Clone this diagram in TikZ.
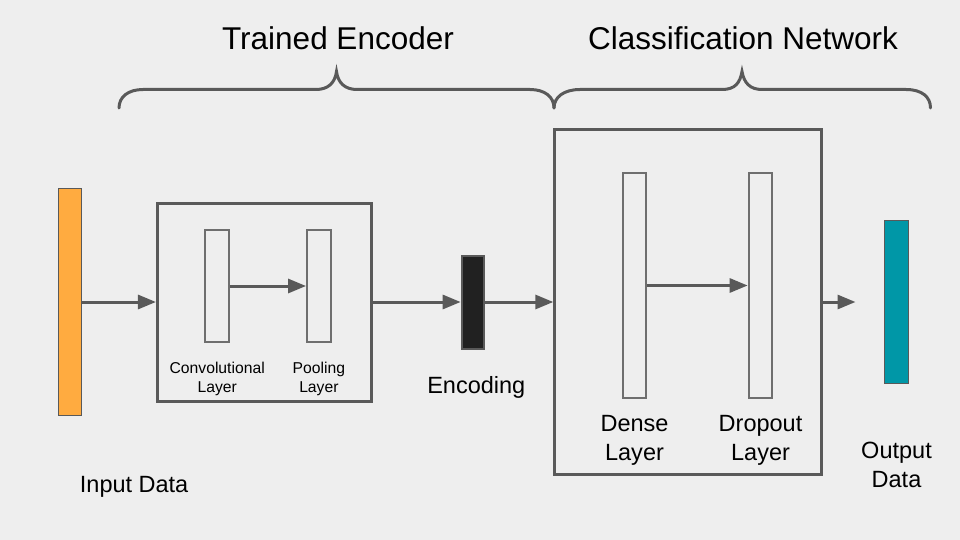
\documentclass[tikz,border=0pt]{standalone}
\usepackage{fontspec}
\setmainfont{Liberation Sans}
\usepackage{xcolor}
\usetikzlibrary{positioning, arrows.meta}
\definecolor{mbg}{HTML}{EEEEEE}
\definecolor{mline}{HTML}{595959}
\definecolor{mlayer}{HTML}{6E6E6E}
\definecolor{morange}{HTML}{FFAB40}
\definecolor{mteal}{HTML}{0097A7}
\definecolor{mdark}{HTML}{212121}
\tikzset{
  >=latex,
  bar/.style={draw=mline,line width=1,inner sep=0,minimum width=22.4},
  block/.style={draw=mline,line width=3,inner sep=0},
  layer/.style={draw=mlayer,line width=2,fill=mbg,inner sep=0,minimum width=23.7},
  connect arrow/.style={-{Triangle[length=18,width=14]},line width=3,mline},
  curly/.style={line width=3,mline,line cap=round},
  text small/.style={inner sep=0,align=center,font=\fontsize{15.7}{18.5}\selectfont},
  text mid/.style={inner sep=0,align=center,font=\fontsize{23.5}{28.5}\selectfont},
  text big/.style={inner sep=0,font=\fontsize{31.5}{36}\selectfont}
}

\begin{document}
\begin{tikzpicture}[x=1pt, y=-1pt]

  % Background
  \fill[mbg] (0,0) rectangle (960,540);
  \useasboundingbox (0,0) rectangle (960,540);

  % Input data
  \node[bar,fill=morange,minimum height=226.4] (input) at (70,302) {};

  % Trained encoder
  \node[block,minimum width=213.7,minimum height=198] (encoder) at (264.3,302) {};
  \node[layer,minimum height=112] (conv) at (217.2,286) {};
  \node[layer,minimum height=112] (pool) at (318.9,286) {};

  % Encoding
  \node[bar,draw=mline,line width=2,fill=mdark,minimum width=22.3,minimum height=93] (encoding) at (472.8,302) {};

  % Classification network
  \node[block,minimum width=266.4,minimum height=345.7] (classifier) at (688,302) {};
  \node[layer,minimum height=225.3] (dense) at (634.5,285.5) {};
  \node[layer,minimum height=225.3] (dropout) at (760.5,285.5) {};

  % Output data
  \node[bar,fill=mteal,minimum width=24,minimum height=163] (output) at (896.5,302) {};
  \coordinate (outtip) at (855.5,302);

  % Connections
  \draw[connect arrow] (input) -- (encoder);
  \draw[connect arrow] (conv) -- (pool);
  \draw[connect arrow] (encoder) -- (encoding);
  \draw[connect arrow] (encoding) -- (classifier);
  \draw[connect arrow] (dense) -- (dropout);
  \draw[connect arrow] (classifier) -- (outtip);

  % Labels
  \node[text small,below=19pt of conv] (convlabel) {Convolutional\\Layer};
  \node[text small,below=19pt of pool] (poollabel) {Pooling\\Layer};
  \node[text mid,below=27pt of encoding,xshift=3.5pt] (encodinglabel) {Encoding};
  \node[text mid,below=16pt of dense] (denselabel) {Dense\\Layer};
  \node[text mid,below=16pt of dropout] (dropoutlabel) {Dropout\\Layer};
  \node[text mid,below=58pt of output] (outputlabel) {Output\\Data};
  \node[text mid,anchor=north west] (inputlabel) at ([xshift=-2pt,yshift=-60pt]input.south east) {Input Data};

  % Braces and titles
  \draw[curly] (119,108) .. controls (119,97) and (128,89.5) .. (143,89.5) -- (316,89.5)
    .. controls (328,89.5) and (335,83) .. (336.5,71.5)
    .. controls (338,83) and (345,89.5) .. (357,89.5) -- (530,89.5)
    .. controls (545,89.5) and (554,97) .. (554,108);
  \draw[curly] (554,108) .. controls (554,97) and (564,89.5) .. (580,89.5) -- (722,89.5)
    .. controls (735,89.5) and (740,83) .. (742,71.5)
    .. controls (744,83) and (750,89.5) .. (762,89.5) -- (906,89.5)
    .. controls (922,89.5) and (930.5,97) .. (930.5,108);
  \node[text big] (enctitle) at (338,38.5) {Trained Encoder};
  \node[text big] (clstitle) at (743,38.5) {Classification Network};

\end{tikzpicture}
\end{document}
